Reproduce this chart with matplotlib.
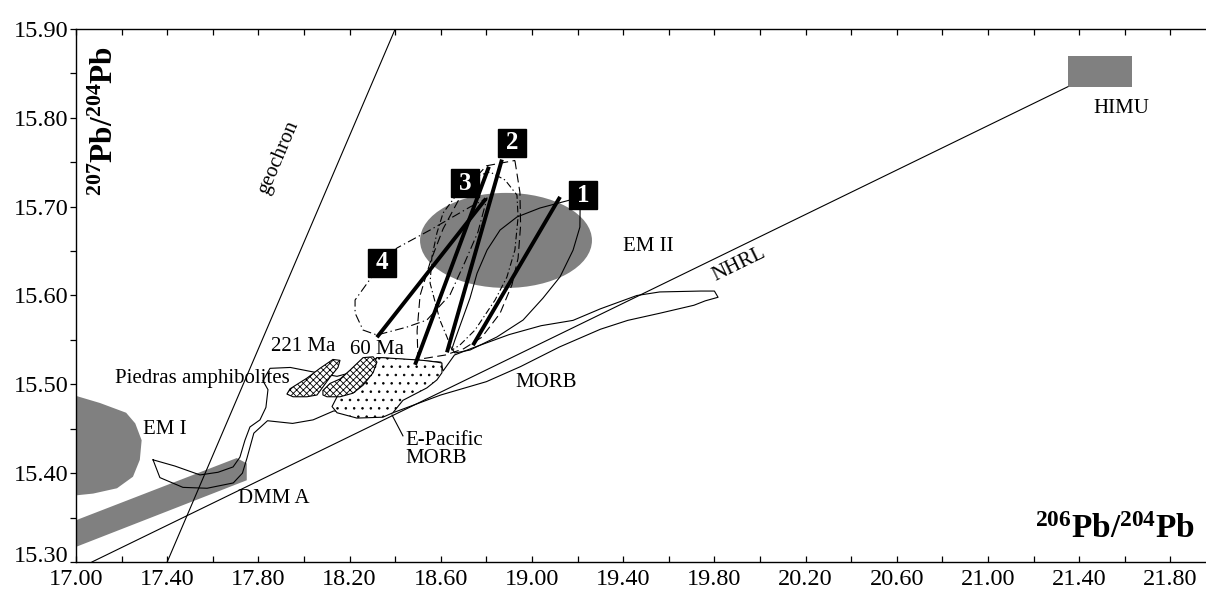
import matplotlib.pyplot as plt
from matplotlib.patches import Ellipse, Polygon, Rectangle
from matplotlib.ticker import FixedLocator, MultipleLocator, FormatStrFormatter, FuncFormatter

plt.rcParams['font.family'] = 'Liberation Serif'
plt.rcParams['mathtext.fontset'] = 'custom'
plt.rcParams['mathtext.rm'] = 'Liberation Serif'
plt.rcParams['mathtext.bf'] = 'Liberation Serif:bold'
plt.rcParams['hatch.linewidth'] = 0.6

# --- axis ticks ---
x_major = [17.00, 17.40, 17.80, 18.20, 18.60, 19.00, 19.40, 19.80, 20.20, 20.60, 21.00, 21.40, 21.80]
x_minor = [17.20, 17.60, 18.00, 18.40, 18.80, 19.20, 19.60, 20.00, 20.40, 20.80, 21.20, 21.60]
y_bottom = 15.30

# --- reference lines (206Pb/204Pb, 207Pb/204Pb) ---
geochron_x = [17.40, 18.40]
geochron_y = [15.30, 15.90]
nhrl_x = [17.07, 21.35]
nhrl_y = [15.30, 15.835]

# --- mantle end-members ---
himu_x = [21.35, 21.63]
himu_y = [15.835, 15.870]
em2_center = (18.886, 15.662)
em2_size = (0.754, 0.107)
em1_x = [17.00, 17.105, 17.22, 17.26, 17.288, 17.28, 17.25, 17.18, 17.075, 17.00]
em1_y = [15.487, 15.479, 15.468, 15.456, 15.437, 15.415, 15.396, 15.383, 15.377, 15.375]
dmm_x = [17.00, 17.705, 17.749, 17.749, 17.00]
dmm_y = [15.347, 15.417, 15.411, 15.392, 15.317]

# --- MORB field outline ---
morb_x = [17.338, 17.434, 17.544, 17.623, 17.689, 17.719, 17.741, 17.763, 17.807,
          17.833, 17.842, 17.820, 17.851, 17.940, 18.039, 18.145, 18.246, 18.32,
          18.50, 18.60, 18.61, 18.66, 18.74, 18.90, 19.04, 19.18, 19.30, 19.46,
          19.56, 19.74, 19.80, 19.816, 19.76, 19.71, 19.56, 19.42, 19.30, 19.12,
          18.95, 18.80, 18.68, 18.60, 18.39, 18.13, 18.04, 17.95, 17.84, 17.78,
          17.75, 17.73, 17.69, 17.575, 17.469, 17.368, 17.338]
morb_y = [15.415, 15.408, 15.398, 15.401, 15.407, 15.418, 15.437, 15.452, 15.460,
          15.474, 15.494, 15.504, 15.518, 15.519, 15.514, 15.509, 15.516, 15.530,
          15.527, 15.525, 15.515, 15.533, 15.541, 15.556, 15.566, 15.572, 15.585, 15.600,
          15.604, 15.605, 15.605, 15.598, 15.594, 15.589, 15.580, 15.572, 15.562, 15.542,
          15.520, 15.503, 15.494, 15.488, 15.468, 15.470, 15.460, 15.456, 15.459, 15.445,
          15.417, 15.400, 15.389, 15.383, 15.384, 15.395, 15.415]

# E-Pacific MORB field
epac_x = [18.32, 18.346, 18.522, 18.583, 18.605, 18.605, 18.583, 18.539, 18.434,
          18.39, 18.346, 18.232, 18.145, 18.123, 18.145, 18.215, 18.276, 18.32]
epac_y = [15.530, 15.530, 15.527, 15.525, 15.524, 15.513, 15.505, 15.496, 15.482,
          15.468, 15.463, 15.462, 15.468, 15.475, 15.486, 15.497, 15.513, 15.530]

# Piedras amphibolites
a221_x = [17.925, 17.939, 18.013, 18.07, 18.127, 18.158, 18.149, 18.114, 18.083,
          18.057, 18.013, 17.952, 17.925]
a221_y = [15.489, 15.495, 15.507, 15.518, 15.528, 15.527, 15.519, 15.508, 15.497,
          15.488, 15.486, 15.486, 15.489]
a60_x = [18.083, 18.114, 18.158, 18.202, 18.259, 18.303, 18.32, 18.303, 18.259,
         18.215, 18.158, 18.101, 18.083]
a60_y = [15.493, 15.501, 15.506, 15.516, 15.530, 15.531, 15.525, 15.513, 15.499,
         15.490, 15.486, 15.486, 15.488]

# --- sample group fields 1-4 ---
f1_x = [19.167, 19.035, 18.934, 18.86, 18.803, 18.759, 18.728, 18.69, 18.662, 18.649,
        18.662, 18.728, 18.846, 18.961, 19.048, 19.123, 19.18, 19.21, 19.211]
f1_y = [15.7075, 15.6985, 15.6884, 15.6737, 15.6512, 15.625, 15.597, 15.570, 15.550, 15.540,
        15.5353, 15.5386, 15.5533, 15.5724, 15.597, 15.621, 15.651, 15.677, 15.700]
f2_x = [18.925, 18.947, 18.95, 18.939, 18.912, 18.86, 18.78, 18.70, 18.62, 18.50,
        18.496, 18.509, 18.553, 18.61, 18.70, 18.80, 18.925]
f2_y = [15.752, 15.716, 15.679, 15.642, 15.612, 15.580, 15.553, 15.540, 15.533, 15.528,
        15.560, 15.600, 15.637, 15.675, 15.718, 15.746, 15.752]
f3_x = [18.728, 18.816, 18.882, 18.934, 18.939, 18.925, 18.89, 18.838, 18.75, 18.684,
        18.649, 18.627, 18.596, 18.553, 18.561, 18.583, 18.61, 18.662, 18.728]
f3_y = [15.7323, 15.739, 15.730, 15.7131, 15.6884, 15.6512, 15.6208, 15.5949, 15.5611, 15.5443,
        15.5386, 15.5533, 15.5724, 15.614, 15.6433, 15.6704, 15.6929, 15.7109, 15.7323]
f4_x = [18.342, 18.408, 18.553, 18.728, 18.803, 18.763, 18.706, 18.64, 18.539, 18.452,
        18.32, 18.259, 18.224, 18.224, 18.281, 18.342]
f4_y = [15.6366, 15.6535, 15.6737, 15.6996, 15.7098, 15.6715, 15.6377, 15.6006, 15.5724, 15.5645,
        15.5555, 15.5611, 15.5803, 15.5949, 15.6152, 15.6366]

# thick trend lines (x0, x1), (y0, y1)
trend_x = [(19.123, 18.741), (18.868, 18.627), (18.811, 18.487), (18.798, 18.32)]
trend_y = [(15.711, 15.544), (15.753, 15.536), (15.745, 15.522), (15.709, 15.553)]

# numbered boxes
box_labels = ['1', '2', '3', '4']
box_x = [19.224, 18.912, 18.706, 18.342]
box_y = [15.713, 15.7717, 15.7266, 15.6366]

fig = plt.figure(figsize=(12.06, 5.92), dpi=100)
ax = fig.add_axes([0.063, 0.0507, 0.937, 0.9003])
ax.set_xlim(17.0, 21.956)
ax.set_ylim(y_bottom, 15.90)

gray = '#808080'
thin = 0.8

ax.plot(geochron_x, geochron_y, color='black', lw=thin, zorder=2)
ax.plot(nhrl_x, nhrl_y, color='black', lw=thin, zorder=2)

ax.add_patch(Rectangle((himu_x[0], himu_y[0]), himu_x[1] - himu_x[0], himu_y[1] - himu_y[0],
                       fc=gray, ec='none', zorder=1))
ax.add_patch(Ellipse(em2_center, em2_size[0], em2_size[1], fc=gray, ec='none', zorder=1))
ax.add_patch(Polygon(list(zip(em1_x, em1_y)), closed=True, fc=gray, ec='none', zorder=1))
ax.add_patch(Polygon(list(zip(dmm_x, dmm_y)), closed=True, fc=gray, ec='none', zorder=1))

ax.plot(morb_x, morb_y, color='black', lw=thin, zorder=3)
ax.add_patch(Polygon(list(zip(epac_x, epac_y)), closed=True, fc='white', ec='black',
                     lw=thin, hatch='..', zorder=4))
ax.add_patch(Polygon(list(zip(a221_x, a221_y)), closed=True, fc='white', ec='black',
                     lw=thin, hatch='xxxxx', zorder=4))
ax.add_patch(Polygon(list(zip(a60_x, a60_y)), closed=True, fc='white', ec='black',
                     lw=thin, hatch='xxxxx', zorder=4))

ax.plot(f1_x, f1_y, color='black', lw=thin, zorder=5)
ax.plot(f2_x, f2_y, color='black', lw=thin, dashes=(8, 4), zorder=5)
ax.plot(f3_x, f3_y, color='black', lw=thin, dashes=(6, 2.5, 1.2, 2.5), zorder=5)
ax.plot(f4_x, f4_y, color='black', lw=thin, dashes=(8, 3, 1.2, 3), zorder=5)

for xs, ys in zip(trend_x, trend_y):
    ax.plot(xs, ys, color='black', lw=2.8, solid_capstyle='butt', zorder=6)

for lab, bx, by in zip(box_labels, box_x, box_y):
    ax.plot(bx, by, marker='s', ms=20, color='black', zorder=7)
    ax.text(bx, by, lab, color='white', fontsize=18, fontweight='bold',
            ha='center', va='center', zorder=8)

fs = 15
ax.text(17.89, 15.755, 'geochron', fontsize=fs, rotation=67, ha='center', va='center')
ax.text(19.908, 15.635, 'NHRL', fontsize=fs, rotation=26, ha='center', va='center')
ax.text(19.40, 15.655, 'EM II', fontsize=fs, ha='left', va='center')
ax.text(17.294, 15.449, 'EM I', fontsize=fs, ha='left', va='center')
ax.text(21.583, 15.811, 'HIMU', fontsize=fs, ha='center', va='center')
ax.text(17.868, 15.371, 'DMM A', fontsize=fs, ha='center', va='center')
ax.text(17.553, 15.507, 'Piedras amphibolites', fontsize=fs, ha='center', va='center')
ax.text(17.996, 15.543, '221 Ma', fontsize=fs, ha='center', va='center')
ax.text(18.32, 15.539, '60 Ma', fontsize=fs, ha='center', va='center')
ax.text(18.925, 15.5015, 'MORB', fontsize=fs, ha='left', va='center')
ax.text(18.443, 15.427, 'E-Pacific\nMORB', fontsize=fs, ha='left', va='center',
        linespacing=0.95)
ax.plot([18.386, 18.434], [15.4655, 15.442], color='black', lw=thin, zorder=3)

# axes styling
ax.spines['right'].set_visible(False)
for side in ['left', 'bottom', 'top']:
    ax.spines[side].set_linewidth(1.0)
ax.xaxis.set_major_locator(FixedLocator(x_major))
ax.xaxis.set_minor_locator(FixedLocator(x_minor))
ax.yaxis.set_major_locator(MultipleLocator(0.1))
ax.yaxis.set_minor_locator(MultipleLocator(0.05))
ax.xaxis.set_major_formatter(FormatStrFormatter('%.2f'))
# lowest y label is drawn separately, sitting just above its tick
ax.yaxis.set_major_formatter(FuncFormatter(
    lambda v, p: '' if abs(v - y_bottom) < 1e-6 else f'{v:.2f}'))
ax.tick_params(axis='x', which='both', direction='in', top=True, bottom=True,
               length=4.5, width=0.9, labelsize=17.5, pad=5)
ax.tick_params(axis='y', which='both', direction='out', left=True, right=False,
               length=4, width=0.9, labelsize=17.5, pad=1.5)
ax.text(-0.0068, y_bottom, f'{y_bottom:.2f}', transform=ax.get_yaxis_transform(),
        fontsize=17.5, ha='right', va='baseline')

fig.text(0.087, 0.795, r'$\mathbf{{}^{207}Pb/{}^{204}Pb}$', fontsize=22.5, rotation=90,
         ha='center', va='center')
ax.text(0.99, 0.06, r'$\mathbf{{}^{206}Pb/{}^{204}Pb}$', fontsize=24,
        transform=ax.transAxes, ha='right', va='center')

fig.savefig('out.png', dpi=100)
